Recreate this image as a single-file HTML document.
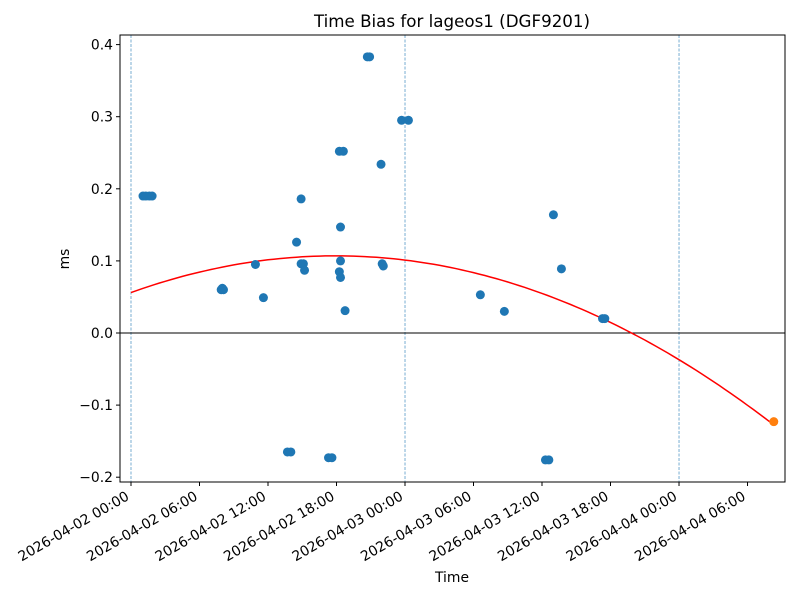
<!DOCTYPE html>
<html><head><meta charset="utf-8"><style>
body{margin:0;background:#fff;}
svg text{font-family:"DejaVu Sans","Liberation Sans",sans-serif;font-size:13.9px;fill:#000;}
</style></head><body>
<svg id="chart" width="800" height="600" xmlns="http://www.w3.org/2000/svg">
<rect width="800" height="600" fill="#fff"/>
<text x="452" y="27" text-anchor="middle" style="font-size:16.7px">Time Bias for lageos1 (DGF9201)</text>
<g id="plot"></g>
<rect x="120" y="35" width="665" height="447" fill="none" stroke="#000" stroke-width="1"/>
<text x="452" y="582" text-anchor="middle">Time</text>
<text transform="translate(69,259) rotate(-90)" text-anchor="middle">ms</text>
</svg>
<script>
// hours since 2026-04-02 00:00
const obsHours=[1.05,1.3,1.6,1.85,7.9,8.0,8.1,10.9,11.6,13.7,14.0,14.5,14.9,14.9,15.1,15.2,17.3,17.6,18.25,18.35,18.35,18.35,18.25,18.6,18.75,20.7,20.9,21.9,22.0,22.1,23.7,24.3,30.6,32.7,36.3,36.6,37.0,37.7,41.3,41.5];
const obsBias=[0.19,0.19,0.19,0.19,0.06,0.062,0.06,0.095,0.049,-0.165,-0.165,0.126,0.186,0.096,0.096,0.087,-0.173,-0.173,0.085,0.077,0.1,0.147,0.252,0.252,0.031,0.383,0.383,0.234,0.096,0.093,0.295,0.295,0.053,0.03,-0.176,-0.176,0.164,0.089,0.02,0.02];
const predHours=[56.3];
const predBias=[-0.123];
const fitCoef=[-0.000159,17.9,0.107]; // a, vertex hour, vertex value
const yTicks=[-0.2,-0.1,0.0,0.1,0.2,0.3,0.4];
const yTickLabels=["−0.2","−0.1","0.0","0.1","0.2","0.3","0.4"];
const xTicks=[0,6,12,18,24,30,36,42,48,54];
const xTickLabels=["2026-04-02 00:00","2026-04-02 06:00","2026-04-02 12:00","2026-04-02 18:00","2026-04-03 00:00","2026-04-03 06:00","2026-04-03 12:00","2026-04-03 18:00","2026-04-04 00:00","2026-04-04 06:00"];
const dayLines=[0,24,48];

const NS="http://www.w3.org/2000/svg";
const X=h=>131+h*11.417;
const Y=v=>333-v*721;
const g=document.getElementById('plot');
function mk(t,a){const e=document.createElementNS(NS,t);for(const k in a)e.setAttribute(k,a[k]);g.appendChild(e);return e;}
dayLines.forEach(h=>{const e=mk('line',{x1:X(h),x2:X(h),y1:35,y2:482,stroke:'#1f77b4','stroke-width':0.6,'stroke-dasharray':'3,1.5'});

});
const zl=mk('line',{x1:120,x2:785,y1:Y(0),y2:Y(0),stroke:'#000','stroke-width':1});


yTicks.forEach((v,i)=>{mk('line',{x1:116,x2:120,y1:Y(v),y2:Y(v),stroke:'#000'});
const t=mk('text',{x:113,y:Y(v)+5,'text-anchor':'end'});t.textContent=yTickLabels[i];

});
xTicks.forEach((h,i)=>{mk('line',{x1:X(h),x2:X(h),y1:482,y2:486,stroke:'#000'});
const ax=X(h)-1, ay=499;
const t=mk('text',{x:ax,y:ay,'text-anchor':'end',transform:`rotate(-30 ${ax} ${ay})`});t.textContent=xTickLabels[i];

});
let d='';for(let h=0;h<=predHours[0];h+=0.5){const v=fitCoef[0]*(h-fitCoef[1])**2+fitCoef[2];d+=(h?'L':'M')+X(h).toFixed(1)+','+Y(v).toFixed(1);}
const fit=mk('path',{d:d,fill:'none',stroke:'#ff0000','stroke-width':1.5});


obsHours.forEach((h,i)=>{const c=mk('circle',{cx:X(h),cy:Y(obsBias[i]),r:4.5,fill:'#1f77b4'});

});
predHours.forEach((h,i)=>{const c=mk('circle',{cx:X(h),cy:Y(predBias[i]),r:4.5,fill:'#ff7f0e'});

});
</script>
</body></html>
